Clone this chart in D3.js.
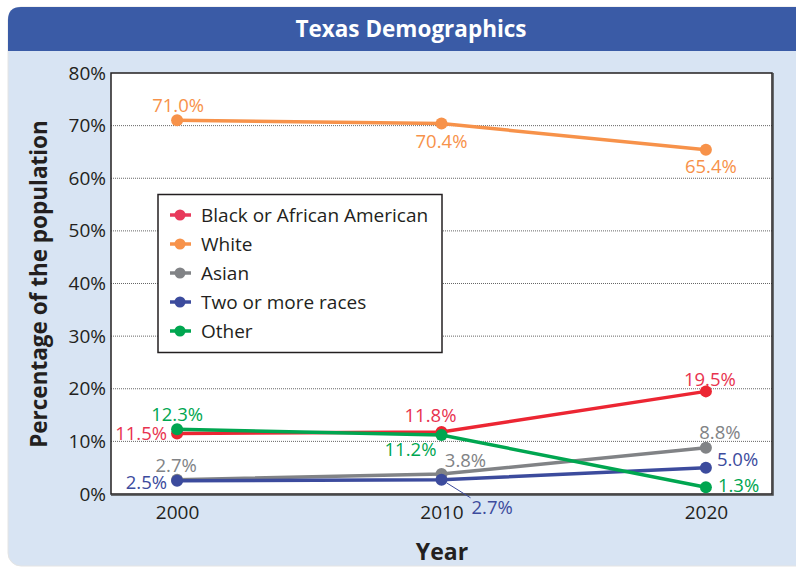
<!DOCTYPE html>
<html><head><meta charset="utf-8">
<script src="https://cdn.jsdelivr.net/npm/d3@7"></script>
<style>
html,body{margin:0;padding:0;background:#fff;}
svg{display:block;font-family:"Open Sans",sans-serif;}
</style></head>
<body>
<svg id="chart" width="796" height="569"></svg>
<script>
const years = ["2000", "2010", "2020"];
const seriesNames = ["Black or African American", "White", "Asian", "Two or more races", "Other"];
const blackValues = [11.5, 11.8, 19.5];
const whiteValues = [71.0, 70.4, 65.4];
const asianValues = [2.7, 3.8, 8.8];
const twoValues = [2.5, 2.7, 5.0];
const otherValues = [12.3, 11.2, 1.3];
const yTicks = [0, 10, 20, 30, 40, 50, 60, 70, 80];
const colors = ["#ec2633", "#f7924a", "#818386", "#3c4b9d", "#00a650"];
const legendColors = ["#e83a5c", "#f7924a", "#818386", "#3c4b9d", "#00a650"];
const labelColors = ["#e8334f", "#f7924a", "#818386", "#3c4b9d", "#00a650"];

const svg = d3.select("#chart");
const L = 111, T = 73, R = 772, B = 494;

// panel
svg.append("rect").attr("x", 8).attr("y", 7).attr("width", 820).attr("height", 559).attr("rx", 13)
  .attr("fill", "#d8e4f3").attr("stroke", "#e4e4e4").attr("stroke-width", 1);
// title bar
svg.append("path")
  .attr("d", `M8,51 L8,20 Q8,7 21,7 L800,7 L800,51 Z`).attr("fill", "#3a5ba6");
svg.append("text").attr("x", 411).attr("y", 28).attr("text-anchor", "middle").attr("dominant-baseline", "central")
  .attr("fill", "#fff").attr("font-weight", "bold").attr("font-size", 22.5)
  .text("Texas Demographics");

const x = d3.scalePoint().domain(years).range([L, R]).padding(0.25);
const y = d3.scaleLinear().domain([0, 80]).range([B, T]);

// plot bg
svg.append("rect").attr("x", L).attr("y", T).attr("width", R - L).attr("height", B - T).attr("fill", "#fff");
// gridlines
svg.append("g").selectAll("line").data(yTicks.filter(d => d > 0 && d < 80)).join("line")
  .attr("x1", L).attr("x2", R).attr("y1", d => y(d)).attr("y2", d => y(d))
  .attr("stroke", "#666").attr("stroke-width", 1).attr("stroke-dasharray", "1,1");

// border
svg.append("rect").attr("x", L).attr("y", T).attr("width", R - L).attr("height", B - T)
  .attr("fill", "none").attr("stroke", "#231f20").attr("stroke-width", 1.5);
svg.append("path").attr("d", `M${R+1},${T} L${R+1},${B+1} L${L},${B+1}`).attr("fill", "none")
  .attr("stroke", "#444").attr("stroke-width", 1.5);

// axes
const yAxis = d3.axisLeft(y).tickValues(yTicks).tickSize(0).tickPadding(5).tickFormat(d => d + "%");
const gy = svg.append("g").attr("transform", `translate(${L},0)`).call(yAxis);
gy.select(".domain").remove();
gy.selectAll("text").attr("font-size", 19).attr("fill", "#231f20").attr("font-family", "'Open Sans', sans-serif");

const xAxis = d3.axisBottom(x).tickSize(0).tickPadding(12);
const gx = svg.append("g").attr("transform", `translate(0,${B})`).call(xAxis);
gx.select(".domain").remove();
gx.selectAll("text").attr("font-size", 19).attr("fill", "#231f20").attr("font-family", "'Open Sans', sans-serif");

// axis titles
svg.append("text").attr("transform", "translate(38,284) rotate(-90)").attr("text-anchor", "middle")
  .attr("dominant-baseline", "central").attr("font-weight", "bold").attr("font-size", 22.5).attr("fill", "#231f20")
  .text("Percentage of the population");
svg.append("text").attr("x", 442).attr("y", 551).attr("text-anchor", "middle").attr("dominant-baseline", "central")
  .attr("font-weight", "bold").attr("font-size", 23).attr("fill", "#231f20").text("Year");

// series
const allValues = [blackValues, whiteValues, asianValues, twoValues, otherValues];
const drawOrder = [1, 2, 3, 0, 4];
const line = d3.line().x((d, i) => x(years[i])).y(d => y(d));
drawOrder.forEach(si => {
  const g = svg.append("g");
  g.append("path").attr("d", line(allValues[si])).attr("fill", "none").attr("stroke", colors[si]).attr("stroke-width", 3.5);
  g.selectAll("circle").data(allValues[si]).join("circle")
    .attr("cx", (d, i) => x(years[i])).attr("cy", d => y(d)).attr("r", 6).attr("fill", colors[si]);
});

// data labels: [series, yearIndex, dx, dy, anchor]
const labelPlacements = [
  [0, 0, -10, -1, "end"], [0, 1, -11, -17, "middle"], [0, 2, 4, -13, "middle"],
  [1, 0, 1, -16, "middle"], [1, 1, 0, 17, "middle"], [1, 2, 5, 16, "middle"],
  [2, 0, -1, -15, "middle"], [2, 1, 24, -15, "middle"], [2, 2, 14, -16, "middle"],
  [3, 0, -10, 1, "end"], [4, 0, 0, -16, "middle"], [4, 1, -31, 13, "middle"],
  [4, 2, 12, -3, "start"], [3, 2, 11, -9, "start"]
];
const lab = svg.append("g").attr("font-size", 18.5);
labelPlacements.forEach(([si, yi, dx, dy, anchor]) => {
  const v = allValues[si][yi];
  lab.append("text").attr("x", x(years[yi]) + dx).attr("y", y(v) + dy)
    .attr("text-anchor", anchor).attr("dominant-baseline", "central")
    .attr("fill", labelColors[si]).text(v.toFixed(1) + "%");
});
// 2.7% (two or more, 2010) with leader line
{
  const px = x(years[1]), py = y(twoValues[1]);
  lab.append("line").attr("x1", px + 5).attr("y1", py + 3).attr("x2", px + 29).attr("y2", py + 18)
    .attr("stroke", colors[3]).attr("stroke-width", 1);
  lab.append("text").attr("x", px + 30).attr("y", py + 27).attr("dominant-baseline", "central")
    .attr("fill", labelColors[3]).text(twoValues[1].toFixed(1) + "%");
}

// legend
const lg = svg.append("g");
lg.append("rect").attr("x", 158).attr("y", 194.5).attr("width", 284).attr("height", 158)
  .attr("fill", "#fff").attr("stroke", "#231f20").attr("stroke-width", 1.5);
seriesNames.forEach((n, i) => {
  const yy = 215 + i * 29;
  lg.append("line").attr("x1", 170).attr("x2", 191).attr("y1", yy).attr("y2", yy)
    .attr("stroke", legendColors[i]).attr("stroke-width", 3.5);
  lg.append("circle").attr("cx", 180).attr("cy", yy).attr("r", 5.5).attr("fill", legendColors[i]);
  lg.append("text").attr("x", 201).attr("y", yy).attr("dominant-baseline", "central")
    .attr("font-size", 19).attr("fill", "#231f20").text(n);
});
</script>
</body></html>
